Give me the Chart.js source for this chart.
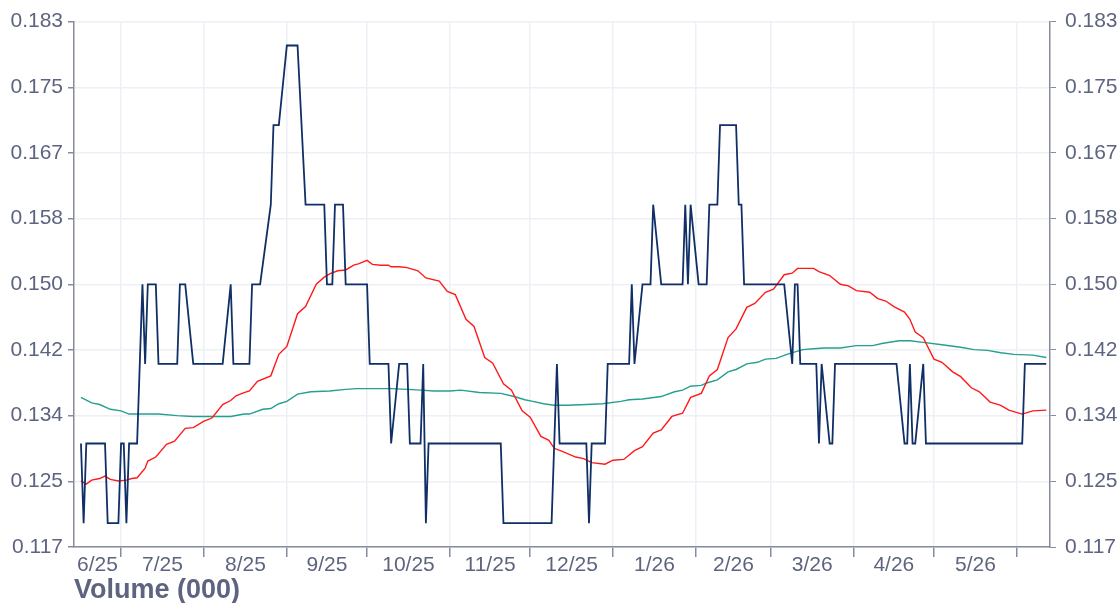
<!DOCTYPE html>
<html>
<head>
<meta charset="utf-8">
<script src="https://cdn.jsdelivr.net/npm/chart.js@4.4.1/dist/chart.umd.min.js"></script>
<style>
  html, body { margin: 0; padding: 0; background: #fff; }
  #wrap { width: 1118px; height: 603px; position: relative; }
</style>
</head>
<body>
<div id="wrap"><canvas id="myChart"></canvas></div>
<script>
// x = days since 1 Jul 2025
const monthStarts = [0, 31, 62, 92, 123, 153, 184, 215, 243, 274, 304, 335];
const monthLabels = ['6/25', '7/25', '8/25', '9/25', '10/25', '11/25', '12/25', '1/26', '2/26', '3/26', '4/26', '5/26'];
const xMin = -17.6;
const xMax = 347.4;

const yTicks = [0.117, 0.12525, 0.1335, 0.14175, 0.15, 0.15825, 0.1665, 0.17475, 0.183];
const yTickLabels = ['0.117', '0.125', '0.134', '0.142', '0.150', '0.158', '0.167', '0.175', '0.183'];

// price
const priceDays = [-15, -14, -13, -6, -5, -1, 0, 1, 2, 3,
  6, 8, 9, 10, 13, 14, 21, 22, 24, 27,
  38, 41, 42, 48, 49, 52, 56, 57, 59, 62,
  66, 69, 76, 77, 79, 80, 83, 84, 92, 93,
  100, 101, 104, 107, 108, 112, 113, 114, 115, 142,
  143, 161, 163, 164, 174, 175, 176, 181, 182, 190,
  191, 192, 195, 198, 199, 202, 210, 211, 212, 213,
  216, 219, 220, 223, 224, 230, 231, 232, 233, 248,
  251, 252, 253, 254, 260, 261, 262, 265, 266, 267,
  290, 293, 294, 295, 296, 297, 300, 301, 337, 338,
  346];
const priceValues = [0.130, 0.120, 0.130, 0.130, 0.120, 0.120, 0.130, 0.130, 0.120, 0.130,
  0.130, 0.150, 0.140, 0.150, 0.150, 0.140, 0.140, 0.150, 0.150, 0.140,
  0.140, 0.150, 0.140, 0.140, 0.150, 0.150, 0.160, 0.170, 0.170, 0.180,
  0.180, 0.160, 0.160, 0.150, 0.150, 0.160, 0.160, 0.150, 0.150, 0.140,
  0.140, 0.130, 0.140, 0.140, 0.130, 0.130, 0.140, 0.120, 0.130, 0.130,
  0.120, 0.120, 0.140, 0.130, 0.130, 0.120, 0.130, 0.130, 0.140, 0.140,
  0.150, 0.140, 0.150, 0.150, 0.160, 0.150, 0.150, 0.160, 0.150, 0.160,
  0.150, 0.150, 0.160, 0.160, 0.170, 0.170, 0.160, 0.160, 0.150, 0.150,
  0.140, 0.150, 0.150, 0.140, 0.140, 0.130, 0.140, 0.130, 0.130, 0.140,
  0.140, 0.130, 0.130, 0.140, 0.130, 0.130, 0.140, 0.130, 0.130, 0.140,
  0.140];

// short moving average (red)
const ma1Days = [-15, -13, -11, -8, -6, -4, -1, 2, 4, 6,
  9, 10, 13, 17, 20, 24, 27, 31, 34, 38,
  41, 43, 46, 48, 51, 56, 59, 62, 66, 69,
  73, 76, 78, 81, 84, 87, 89, 92, 94, 97,
  100, 101, 104, 107, 111, 114, 119, 122, 125, 129,
  132, 136, 139, 143, 146, 150, 153, 157, 160, 162,
  165, 170, 173, 176, 181, 184, 188, 192, 195, 199,
  202, 206, 210, 213, 217, 220, 223, 227, 230, 234,
  237, 241, 244, 248, 251, 253, 259, 261, 265, 269,
  272, 275, 280, 283, 286, 289, 293, 295, 297, 300,
  304, 307, 311, 314, 318, 321, 325, 329, 332, 337,
  341, 346];
const ma1Values = [0.1253, 0.1249, 0.1254, 0.1256, 0.1259, 0.1255, 0.1253, 0.1254, 0.1256, 0.1257,
  0.1269, 0.1278, 0.1283, 0.1299, 0.1303, 0.1319, 0.1320, 0.1328, 0.1332, 0.1349,
  0.1354, 0.1360, 0.1364, 0.1366, 0.1378, 0.1385, 0.1412, 0.1422, 0.1463, 0.1472,
  0.1500, 0.1509, 0.1513, 0.1517, 0.1518, 0.1524, 0.1526, 0.1530, 0.1525, 0.1524,
  0.1524, 0.1522, 0.1522, 0.1521, 0.1517, 0.1508, 0.1504, 0.1491, 0.1487, 0.1456,
  0.1447, 0.1408, 0.1401, 0.1375, 0.1367, 0.1341, 0.1333, 0.1309, 0.1304, 0.1294,
  0.1290, 0.1283, 0.1281, 0.1276, 0.1274, 0.1279, 0.1280, 0.1291, 0.1296, 0.1313,
  0.1317, 0.1334, 0.1338, 0.1358, 0.1363, 0.1385, 0.1393, 0.1433, 0.1444, 0.1471,
  0.1476, 0.1490, 0.1494, 0.1512, 0.1514, 0.1520, 0.1520, 0.1516, 0.1511, 0.1500,
  0.1498, 0.1492, 0.1490, 0.1482, 0.1479, 0.1472, 0.1465, 0.1456, 0.1440, 0.1433,
  0.1406, 0.1402, 0.1390, 0.1384, 0.1370, 0.1365, 0.1352, 0.1348, 0.1342, 0.1337,
  0.1341, 0.1342];

// long moving average (teal)
const ma2Days = [-15, -11, -8, -4, 0, 3, 9, 14, 21, 27,
  35, 41, 46, 48, 53, 56, 59, 62, 66, 71,
  78, 84, 88, 94, 101, 107, 112, 117, 123, 127,
  134, 142, 147, 151, 154, 158, 162, 167, 174, 180,
  187, 190, 195, 202, 207, 210, 213, 217, 219, 223,
  227, 230, 234, 238, 241, 245, 249, 253, 255, 259,
  263, 269, 275, 281, 285, 291, 295, 300, 307, 314,
  319, 324, 329, 334, 341, 346];
const ma2Values = [0.1358, 0.1351, 0.1349, 0.1343, 0.1341, 0.1337, 0.1337, 0.1337, 0.1335, 0.1334,
  0.1334, 0.1334, 0.1337, 0.1337, 0.1343, 0.1344, 0.1350, 0.1353, 0.1362, 0.1365,
  0.1366, 0.1368, 0.1369, 0.1369, 0.1369, 0.1368, 0.1367, 0.1366, 0.1366, 0.1367,
  0.1364, 0.1363, 0.1359, 0.1355, 0.1353, 0.1350, 0.1348, 0.1348, 0.1349, 0.1350,
  0.1353, 0.1355, 0.1356, 0.1359, 0.1365, 0.1367, 0.1372, 0.1373, 0.1376, 0.1380,
  0.1390, 0.1393, 0.1400, 0.1402, 0.1406, 0.1407, 0.1412, 0.1416, 0.1418, 0.1419,
  0.1420, 0.1420, 0.1423, 0.1423, 0.1426, 0.1429, 0.1429, 0.1427, 0.1424, 0.1421,
  0.1418, 0.1417, 0.1414, 0.1412, 0.1411, 0.1408];

const textColor = '#5d6480';
const axisColor = '#868b9f';
const gridColor = '#eef0f5';
const fontFamily = "'Liberation Sans', Arial, sans-serif";

// labels sit in the middle of each month
const labelCenters = monthStarts.map((m, i) => i === 0 ? (xMin + m) / 2 : (monthStarts[i - 1] + m) / 2);

const toPoints = (days, values) => days.map((d, i) => ({ x: d, y: values[i] }));

const ctx = document.querySelector('#myChart').getContext('2d');
const chart = new Chart(ctx, {
  type: 'line',
  data: {
    datasets: [
      { label: 'Price', data: toPoints(priceDays, priceValues), borderColor: '#0f2f66', borderWidth: 1.8, pointRadius: 0, tension: 0, yAxisID: 'y', order: 1 },
      { label: 'MA short', data: toPoints(ma1Days, ma1Values), borderColor: '#ff1a1a', borderWidth: 1.4, pointRadius: 0, tension: 0, yAxisID: 'y', order: 2 },
      { label: 'MA long', data: toPoints(ma2Days, ma2Values), borderColor: '#25a08f', borderWidth: 1.4, pointRadius: 0, tension: 0, yAxisID: 'y', order: 3 }
    ]
  },
  options: {
    responsive: true,
    maintainAspectRatio: false,
    animation: false,
    layout: { padding: { top: 20, left: 0, right: 0, bottom: 0 } },
    plugins: { legend: { display: false }, tooltip: { enabled: false } },
    scales: {
      x: {
        type: 'linear',
        position: 'bottom',
        min: xMin,
        max: xMax,
        afterBuildTicks: (axis) => {
          axis.ticks = monthStarts.concat(labelCenters).sort((a, b) => a - b).map(v => ({ value: v }));
        },
        afterFit: (axis) => { axis.height = 56; },
        ticks: {
          autoSkip: false,
          maxRotation: 0,
          padding: -2,
          color: textColor,
          font: { family: fontFamily, size: 21, lineHeight: 1 },
          callback: (value) => {
            const i = labelCenters.indexOf(value);
            return i >= 0 ? monthLabels[i] : '';
          }
        },
        grid: {
          color: (c) => monthStarts.includes(c.tick && c.tick.value) ? gridColor : 'rgba(0,0,0,0)',
          tickColor: (c) => monthStarts.includes(c.tick && c.tick.value) ? axisColor : 'rgba(0,0,0,0)',
          tickLength: 10,
          lineWidth: 1.5
        },
        border: { display: true, color: axisColor, width: 1.5 },
        title: {
          display: true,
          text: 'Volume (000)',
          align: 'start',
          color: textColor,
          padding: { top: 0, bottom: -1 },
          font: { family: fontFamily, size: 27, weight: 'bold', lineHeight: 1 }
        }
      },
      y: {
        type: 'linear',
        position: 'left',
        min: 0.117,
        max: 0.183,
        afterBuildTicks: (axis) => { axis.ticks = yTicks.map(v => ({ value: v })); },
        afterFit: (axis) => { axis.width = 74; },
        ticks: {
          padding: 5,
          color: textColor,
          font: { family: fontFamily, size: 21 },
          callback: (v, i) => yTickLabels[i]
        },
        grid: { color: gridColor, tickColor: axisColor, tickLength: 6, lineWidth: 1.5 },
        border: { display: true, color: axisColor, width: 1.5 }
      },
      y2: {
        type: 'linear',
        position: 'right',
        min: 0.117,
        max: 0.183,
        afterBuildTicks: (axis) => { axis.ticks = yTicks.map(v => ({ value: v })); },
        afterFit: (axis) => { axis.width = 68; },
        ticks: {
          padding: 9,
          color: textColor,
          font: { family: fontFamily, size: 21 },
          callback: (v, i) => yTickLabels[i]
        },
        grid: { drawOnChartArea: false, tickColor: axisColor, tickLength: 6 },
        border: { display: true, color: axisColor, width: 1.5 }
      }
    }
  }
});
</script>
</body>
</html>
